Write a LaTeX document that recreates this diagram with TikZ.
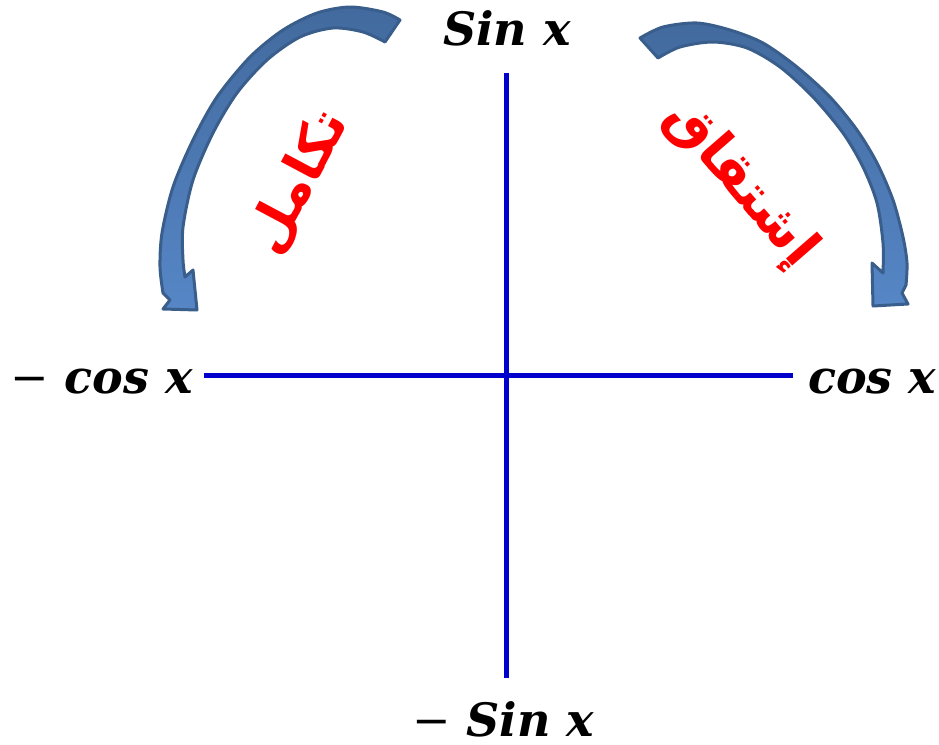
\documentclass[tikz,border=0pt]{standalone}
\usepackage{fontspec}
\setmainfont{DejaVu Serif}
\newfontfamily\arabicfont[Script=Arabic]{DejaVu Sans}
\TeXXeTstate=1
\definecolor{axisblue}{RGB}{0,0,204}
\definecolor{arrowline}{RGB}{58,94,140}
\definecolor{arrowtop}{RGB}{66,106,158}
\definecolor{arrowbottom}{RGB}{86,134,198}
\newcommand{\thinminus}{{\mdseries\upshape −}}
\begin{document}
\begin{tikzpicture}[x=1pt, y=-1pt,
  lbl/.style={font=\fontsize{46}{46}\selectfont\bfseries\itshape, inner sep=0pt},
  word/.style={font=\fontsize{54}{54}\selectfont\arabicfont\bfseries, text=red, inner sep=0pt},
  axis/.style={axisblue, line width=5pt},
  bent/.style={draw=arrowline, line width=3pt, line join=round, top color=arrowtop, bottom color=arrowbottom}]
\def\xc{506}
\def\yc{375}
\useasboundingbox (0,0) rectangle (939,744);
\node[lbl, anchor=base] (sinx) at (507,45) {Sin x};
\node[lbl, anchor=base east] (mcosx) at (193,393) {\thinminus\ cos x};
\node[lbl, anchor=base west] (cosx) at (808,393) {cos x};
\node[lbl, anchor=base west] (msinx) at (412,736) {\thinminus\ Sin x};
\node[word, rotate=62] (integ) at (299,182) {\beginR تكامل\endR};
\node[word, rotate=-49] (deriv) at (740,184) {\beginR إشتقاق\endR};
\coordinate (top) at (\xc,73);
\coordinate (bottom) at (\xc,678);
\coordinate (left) at (204,\yc);
\coordinate (right) at (793,\yc);
\draw[axis] (top) -- (bottom);
\draw[axis] (left) -- (right);
\draw[bent] (400,20) -- plot[smooth] coordinates {(385,42) (363,32) (333,28) (300,37) (267,60) (237,93) (213,133) (193,180) (183,227) (183,260) (185,277)}
  -- (193,270) -- (197,310) -- (163,309) -- (170,300)
  -- plot[smooth] coordinates {(163,293) (160,267) (162,233) (173,187) (193,140) (217,97) (250,57) (283,30) (317,13) (350,7) (383,12) (400,20)} -- cycle;
\draw[bent] (640,38) -- plot[smooth] coordinates {(658,58) (680,47) (713,42) (747,48) (780,67) (813,97) (843,133) (863,167) (877,203) (883,243) (883,273)}
  -- (872,263) -- (873,306) -- (908,304) -- (902,293)
  -- plot[smooth] coordinates {(906,285) (907,263) (903,237) (893,200) (877,163) (857,130) (830,97) (797,67) (763,43) (730,30) (697,23) (663,27) (640,38)} -- cycle;
\end{tikzpicture}
\end{document}
